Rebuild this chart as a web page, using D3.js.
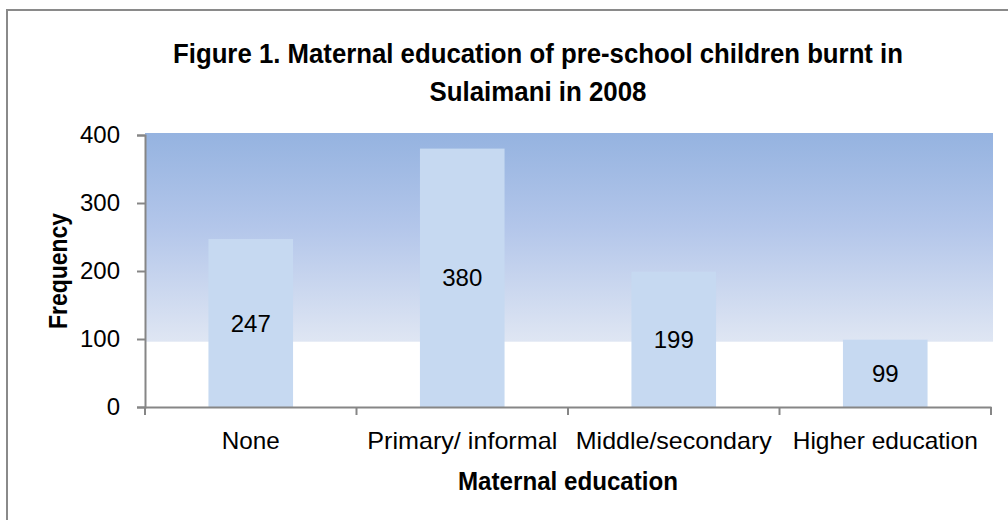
<!DOCTYPE html>
<html><head><meta charset="utf-8">
<script src="https://cdn.jsdelivr.net/npm/d3@7"></script>
<style>
html,body{margin:0;padding:0;background:#fff;}
svg{display:block;}
</style></head>
<body>
<svg id="chart" width="1008" height="520"></svg>
<script>
const categories = ["None", "Primary/ informal", "Middle/secondary", "Higher education"];
const values = [247, 380, 199, 99];
const yTicks = [0, 100, 200, 300, 400];
const titleLines = ["Figure 1. Maternal education of pre-school children burnt in", "Sulaimani in 2008"];
const xTitle = "Maternal education";
const yTitle = "Frequency";

const svg = d3.select("#chart");
const m = {left: 145, right: 991, top: 135, bottom: 407};

// outer border
svg.append("rect").attr("x", 7).attr("y", 10).attr("width", 1010).attr("height", 530)
  .attr("fill", "#fff").attr("stroke", "#8a8a8a").attr("stroke-width", 2);

const x = d3.scaleBand().domain(categories).range([m.left, m.right]).padding(0);
const y = d3.scaleLinear().domain([0, 400]).range([m.bottom, m.top]);

// gradient background
const defs = svg.append("defs");
const grad = defs.append("linearGradient").attr("id", "bg").attr("x1", 0).attr("y1", 0).attr("x2", 0).attr("y2", 1);
grad.append("stop").attr("offset", "0%").attr("stop-color", "#95b3e0");
grad.append("stop").attr("offset", "45%").attr("stop-color", "#b3c6ea");
grad.append("stop").attr("offset", "100%").attr("stop-color", "#dfe6f3");
svg.append("rect").attr("x", m.left).attr("y", y(400) - 2)
  .attr("width", 993 - m.left).attr("height", y(96) - y(400) + 2)
  .attr("fill", "url(#bg)");

// bars
const bw = x.bandwidth() * 0.4;
svg.append("g").selectAll("rect").data(values).join("rect")
  .attr("x", (d, i) => x(categories[i]) + x.bandwidth() / 2 - bw / 2)
  .attr("y", d => y(d))
  .attr("width", bw)
  .attr("height", d => y(0) - y(d))
  .attr("fill", "#c6d9f1");

// data labels
svg.append("g").selectAll("text").data(values).join("text")
  .attr("x", (d, i) => x(categories[i]) + x.bandwidth() / 2)
  .attr("y", d => y(d / 2))
  .attr("dy", "0.36em")
  .attr("text-anchor", "middle")
  .attr("font-family", "Liberation Sans, Arial, sans-serif")
  .attr("font-size", 24)
  .attr("fill", "#000")
  .text(d => d);

// y axis
const yAxis = svg.append("g").attr("transform", `translate(${m.left},0)`)
  .call(d3.axisLeft(y).tickValues(yTicks).tickSize(8).tickPadding(17).tickFormat(d3.format("d")));
yAxis.select(".domain").attr("stroke", "#868686").attr("stroke-width", 2);
yAxis.selectAll(".tick line").attr("stroke", "#868686").attr("stroke-width", 2);
yAxis.selectAll("text").attr("font-family", "Liberation Sans, Arial, sans-serif")
  .attr("font-size", 24).attr("fill", "#000");

// x axis
const xAxis = svg.append("g").attr("transform", `translate(0,${m.bottom})`)
  .call(d3.axisBottom(x).tickSize(0).tickPadding(25));
xAxis.select(".domain").attr("stroke", "#868686").attr("stroke-width", 2);
xAxis.selectAll(".tick line").remove();
const xLabelWidths = [58, 190, 196, 185];
xAxis.selectAll("text").attr("font-family", "Liberation Sans, Arial, sans-serif")
  .attr("font-size", 24).attr("fill", "#000")
  .attr("textLength", (d, i) => xLabelWidths[i]).attr("lengthAdjust", "spacingAndGlyphs");
// boundary ticks
const bounds = categories.map(c => x(c)).concat([m.right]);
xAxis.selectAll("line.bound").data(bounds).join("line").attr("class", "bound")
  .attr("x1", d => d).attr("x2", d => d).attr("y1", 0).attr("y2", 8)
  .attr("stroke", "#868686").attr("stroke-width", 2);

// titles
const tt = svg.append("g").attr("font-family", "Liberation Sans Narrow, Liberation Sans, Arial, sans-serif")
  .attr("font-weight", "bold").attr("fill", "#000").attr("text-anchor", "middle");
tt.append("text").attr("x", 538).attr("y", 63).attr("font-size", 28)
  .attr("textLength", 730).attr("lengthAdjust", "spacingAndGlyphs").text(titleLines[0]);
tt.append("text").attr("x", 538).attr("y", 101).attr("font-size", 28)
  .attr("textLength", 217).attr("lengthAdjust", "spacingAndGlyphs").text(titleLines[1]);

svg.append("text").attr("x", 568).attr("y", 490).attr("text-anchor", "middle")
  .attr("font-family", "Liberation Sans Narrow, Liberation Sans, Arial, sans-serif")
  .attr("font-weight", "bold").attr("font-size", 25)
  .attr("textLength", 220).attr("lengthAdjust", "spacingAndGlyphs").text(xTitle);

svg.append("text").attr("transform", "translate(67,271) rotate(-90)").attr("text-anchor", "middle")
  .attr("font-family", "Liberation Sans Narrow, Liberation Sans, Arial, sans-serif")
  .attr("font-weight", "bold").attr("font-size", 25)
  .attr("textLength", 116).attr("lengthAdjust", "spacingAndGlyphs").text(yTitle);
</script>
</body></html>
